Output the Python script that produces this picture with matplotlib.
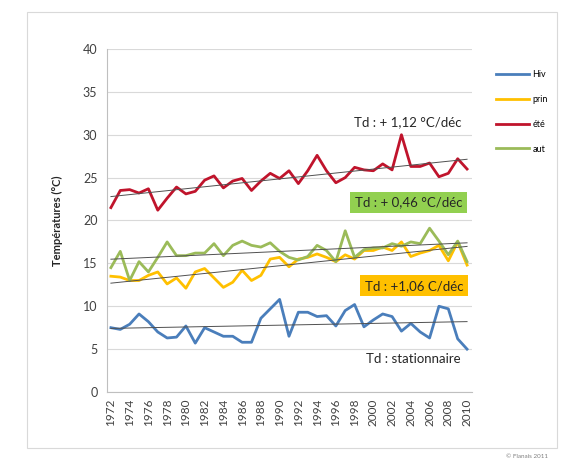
import matplotlib
matplotlib.use("Agg")
import matplotlib.pyplot as plt
import numpy as np
from matplotlib.patches import Rectangle

plt.rcParams['font.family'] = ['Lato', 'DejaVu Sans']

annees = list(range(1972, 2011))

hiv = [7.5, 7.3, 7.9, 9.1, 8.2, 7.0, 6.3, 6.4, 7.7, 5.7,
       7.5, 7.0, 6.5, 6.5, 5.8, 5.8, 8.6, 9.7, 10.8, 6.5,
       9.3, 9.3, 8.8, 8.9, 7.7, 9.5, 10.2, 7.6, 8.4, 9.1,
       8.8, 7.1, 8.0, 7.0, 6.3, 10.0, 9.7, 6.2, 5.0]

prin = [13.5, 13.4, 13.0, 13.0, 13.6, 14.0, 12.6, 13.3, 12.1, 14.0,
        14.4, 13.3, 12.2, 12.8, 14.2, 13.0, 13.6, 15.5, 15.7, 14.6,
        15.5, 15.7, 16.1, 15.7, 15.2, 16.0, 15.5, 16.5, 16.5, 16.9,
        16.5, 17.5, 15.8, 16.2, 16.5, 17.1, 15.3, 17.5, 14.8]

ete = [21.5, 23.5, 23.6, 23.2, 23.7, 21.2, 22.6, 23.9, 23.1, 23.4,
       24.7, 25.2, 23.8, 24.6, 24.9, 23.5, 24.6, 25.5, 24.9, 25.8,
       24.3, 25.8, 27.6, 25.8, 24.4, 25.0, 26.2, 25.9, 25.8, 26.6,
       25.9, 30.0, 26.3, 26.3, 26.7, 25.1, 25.5, 27.2, 26.0]

aut = [14.5, 16.4, 13.0, 15.2, 14.0, 15.7, 17.5, 15.9, 15.9, 16.2,
       16.2, 17.3, 15.9, 17.1, 17.6, 17.1, 16.9, 17.4, 16.4, 15.7,
       15.4, 15.8, 17.1, 16.5, 15.2, 18.8, 15.7, 16.6, 16.8, 16.8,
       17.3, 17.0, 17.5, 17.3, 19.1, 17.6, 16.0, 17.6, 15.2]

series = [("Hiv", hiv, "#4A7EBB"),
          ("prin", prin, "#FFC000"),
          ("été", ete, "#C0142C"),
          ("aut", aut, "#9BBB59")]

fig = plt.figure(figsize=(5.67, 4.62), dpi=100)
ax = fig.add_axes([0.189, 0.1515, 0.643, 0.7425])

x = np.array(annees)
handles = []
for nom, vals, coul in series:
    h, = ax.plot(x, vals, color=coul, linewidth=2.0, label=nom, zorder=3)
    handles.append(h)
    # droite de tendance
    a, b = np.polyfit(x, vals, 1)
    ax.plot(x, a * x + b, color="#505050", linewidth=0.7, zorder=4)

ax.set_ylim(0, 40)
ax.set_xlim(1971.6, 2010.5)
ax.set_yticks(range(0, 41, 5))
ax.set_xticks(annees[::2])
ax.set_xticklabels([str(a) for a in annees[::2]], rotation=90)
ax.tick_params(axis="both", length=0, labelsize=8.5, colors="#404040")
ax.tick_params(axis="y", labelsize=9, pad=7)
ax.tick_params(axis="x", pad=5)
ax.grid(axis="y", color="#D9D9D9", linewidth=0.8)
ax.set_axisbelow(True)
for s in ["top", "right"]:
    ax.spines[s].set_visible(False)
for s in ["left", "bottom"]:
    ax.spines[s].set_color("#BFBFBF")

ax.set_ylabel("Températures (°C)", fontsize=8, fontweight="bold", color="#262626")
ax.yaxis.set_label_coords(-0.12, 0.5)

# annotations des tendances
ax.text(0.825, 0.787, "Td : + 1,12 °C/déc", transform=ax.transAxes,
        ha="center", va="center", fontsize=9.5, color="#262626")
ax.text(0.826, 0.552, "Td : + 0,46 °C/déc", transform=ax.transAxes,
        ha="center", va="center", fontsize=9.5, color="#262626",
        bbox=dict(boxstyle="square,pad=0.35", fc="#92D050", ec="none"))
ax.text(0.841, 0.310, "Td : +1,06 C/déc", transform=ax.transAxes,
        ha="center", va="center", fontsize=9.5, color="#262626",
        bbox=dict(boxstyle="square,pad=0.35", fc="#FFC000", ec="none"))
ax.text(0.841, 0.096, "Td : stationnaire", transform=ax.transAxes,
        ha="center", va="center", fontsize=9.5, color="#262626")

fig.legend(handles, [h.get_label() for h in handles], loc="upper left",
           bbox_to_anchor=(488 / 567, 1 - 62 / 462), frameon=False,
           fontsize=6.5, handlelength=3.6, labelspacing=1.75, handletextpad=0.4)

# cadre du graphique
fig.patches.append(Rectangle((27 / 567, 1 - 448 / 462), 530 / 567, 436 / 462,
                             transform=fig.transFigure, fill=False,
                             edgecolor="#D9D9D9", linewidth=0.8))

fig.text(548 / 567, 1 - 456 / 462, "© Flanais 2011", fontsize=4.5,
         color="#808080", ha="right", va="center")

fig.savefig("out.png", dpi=100)
